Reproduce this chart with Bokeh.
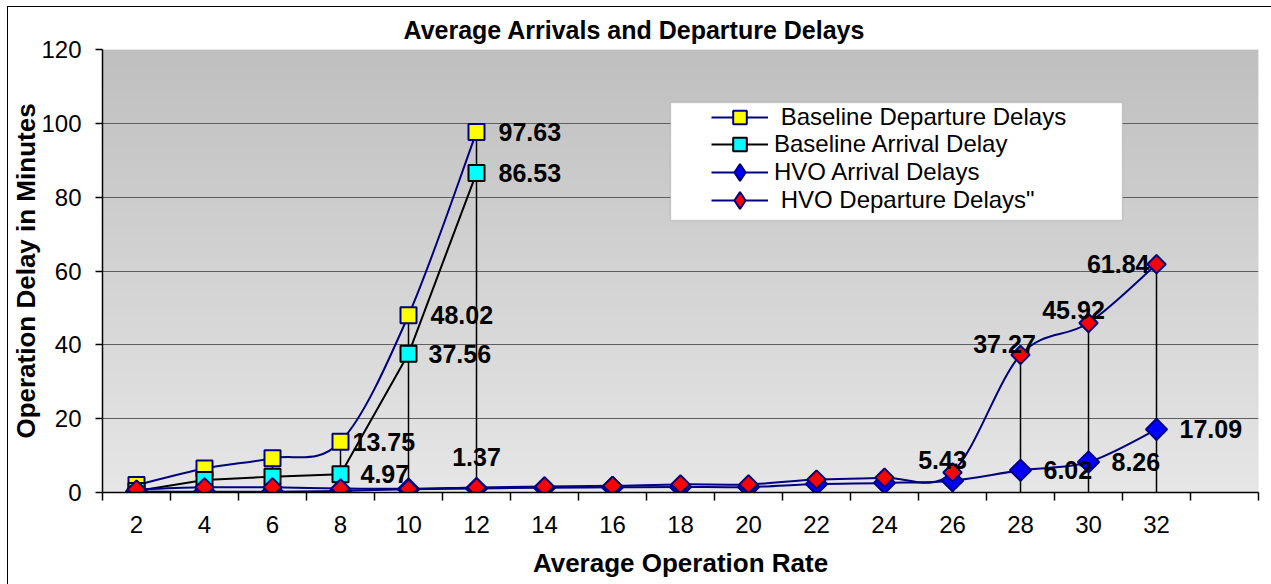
import numpy as np
from bokeh.plotting import figure
from bokeh.models import (Range1d, FixedTicker, Legend, LegendItem, BoxAnnotation,
                          LabelSet, ColumnDataSource)
from bokeh.core.properties import value
from bokeh.embed import file_html
from bokeh.resources import INLINE

# ---------------- data ----------------
rates = [2, 4, 6, 8, 10, 12, 14, 16, 18, 20, 22, 24, 26, 28, 30, 32]
baseline_rates = [2, 4, 6, 8, 10, 12]
baseline_departure = [2.0, 6.5, 9.3, 13.75, 48.02, 97.63]
baseline_arrival = [0.4, 3.4, 4.3, 4.97, 37.56, 86.53]
hvo_arrival = [0.3, 0.2, 0.2, 0.4, 0.9, 1.1, 1.3, 1.4, 1.5, 1.5, 2.3, 2.6, 3.2, 6.02, 8.26, 17.09]
hvo_departure = [0.8, 1.4, 1.4, 1.1, 1.0, 1.37, 1.6, 1.8, 2.2, 2.2, 3.5, 4.0, 5.43, 37.27, 45.92, 61.84]
y_ticks = [0, 20, 40, 60, 80, 100, 120]
grid_ticks = [20, 40, 60, 80, 100]
legend_labels = [" Baseline Departure Delays", "Baseline Arrival Delay",
                 "HVO Arrival Delays", " HVO Departure Delays\""]
title_text = "Average Arrivals and Departure Delays"

series = {
    "bdep": (baseline_rates, baseline_departure),
    "barr": (baseline_rates, baseline_arrival),
    "harr": (rates, hvo_arrival),
    "hdep": (rates, hvo_departure),
}

# which points carry a value label, and where the label sits (style only)
label_specs = [
    ("bdep", 8, "left", 12, 0),
    ("bdep", 10, "left", 22, 0),
    ("bdep", 12, "left", 22, 0),
    ("barr", 8, "left", 20, 0),
    ("barr", 10, "left", 20, 0),
    ("barr", 12, "left", 22, 0),
    ("hdep", 12, "center", 0, 30),
    ("hdep", 26, "center", -10, 12),
    ("hdep", 28, "center", -16, 11),
    ("hdep", 30, "center", -15, 13),
    ("hdep", 32, "right", -7, 0),
    ("harr", 28, "left", 23, 0),
    ("harr", 30, "left", 23, 0),
    ("harr", 32, "left", 23, 0),
]

FONT = "Liberation Sans"
NAVY = "#000080"


def smooth(xs, ys, t=1.0 / 6.0):
    n = len(xs)
    d = dict(x0=[], y0=[], x1=[], y1=[], cx0=[], cy0=[], cx1=[], cy1=[])
    for i in range(n - 1):
        xp, yp = (xs[i - 1], ys[i - 1]) if i > 0 else (xs[i], ys[i])
        xn, yn = (xs[i + 2], ys[i + 2]) if i + 2 < n else (xs[i + 1], ys[i + 1])
        d["x0"].append(xs[i]); d["y0"].append(ys[i])
        d["x1"].append(xs[i + 1]); d["y1"].append(ys[i + 1])
        d["cx0"].append(xs[i] + (xs[i + 1] - xp) * t)
        d["cy0"].append(ys[i] + (ys[i + 1] - yp) * t)
        d["cx1"].append(xs[i + 1] - (xn - xs[i]) * t)
        d["cy1"].append(ys[i + 1] - (yn - ys[i]) * t)
    return ColumnDataSource(d)


p = figure(width=1263, height=577, x_range=Range1d(1, 35), y_range=Range1d(0, 120),
           output_backend="svg", toolbar_location=None,
           min_border_left=94, min_border_right=13, min_border_top=42, min_border_bottom=92)
p.margin = (7, 0, 0, 8)
p.styles = {"outline": "1.5px solid black"}
p.outline_line_color = None
p.background_fill_color = "#e6e6e6"
p.border_fill_color = "white"

# gradient background of the plot area
N = 256
tt = np.linspace(0.0, 1.0, N)
g = np.round(230 - (230 - 191) * tt).astype(np.uint32)
img = ((255 << 24) | (g << 16) | (g << 8) | g).astype(np.uint32).reshape(N, 1)
p.image_rgba(image=[img], x=1, y=0, dw=34, dh=120, level="image")

# title
p.title.text = title_text
p.title.align = "left"
p.title.offset = 301
p.title.vertical_align = "middle"
p.title.text_font = FONT
p.title.text_font_size = "25px"
p.title.text_font_style = "bold"
p.title.text_color = "black"
p.title.standoff = 10

# axes
p.xaxis.ticker = FixedTicker(ticks=rates, minor_ticks=list(range(1, 36, 2)))
p.xaxis.major_tick_out = 0
p.xaxis.major_tick_in = 0
p.xaxis.minor_tick_out = 8
p.xaxis.minor_tick_in = 0
p.xaxis.minor_tick_line_color = "black"
p.xaxis.minor_tick_line_width = 1.5
p.xaxis.major_label_standoff = 15
p.xaxis.axis_label = "Average Operation Rate"
p.xaxis.axis_label_standoff = 12

p.yaxis.ticker = FixedTicker(ticks=y_ticks)
p.yaxis.major_tick_out = 7
p.yaxis.major_tick_in = 0
p.yaxis.minor_tick_line_color = None
p.yaxis.major_label_standoff = 14
p.yaxis.axis_label = "Operation Delay in Minutes"
p.yaxis.axis_label_standoff = -3

for ax in (p.xaxis, p.yaxis):
    ax.axis_line_color = "black"
    ax.axis_line_width = 1.5
    ax.major_tick_line_color = "black"
    ax.major_tick_line_width = 1.5
    ax.major_label_text_font = FONT
    ax.major_label_text_font_size = "24px"
    ax.major_label_text_color = "black"
    ax.axis_label_text_font = FONT
    ax.axis_label_text_font_size = "26px"
    ax.axis_label_text_font_style = "bold"
    ax.axis_label_text_color = "black"

p.xgrid.visible = False
p.ygrid.ticker = FixedTicker(ticks=grid_ticks)
p.ygrid.grid_line_color = "#5f5f5f"
p.ygrid.grid_line_width = 1.2

# drop lines from the highest value at each rate down to the axis
drop_top = []
for r in rates:
    vals = [ys[xs.index(r)] for xs, ys in series.values() if r in xs]
    drop_top.append(max(vals))
p.segment(x0=rates, y0=[0] * len(rates), x1=rates, y1=drop_top,
          line_color="black", line_width=1.5)

# lines
l_bdep = p.bezier(x0="x0", y0="y0", x1="x1", y1="y1", cx0="cx0", cy0="cy0", cx1="cx1", cy1="cy1",
                  source=smooth(baseline_rates, baseline_departure), line_color=NAVY, line_width=2)
l_barr = p.line(baseline_rates, baseline_arrival, line_color="black", line_width=2)
l_harr = p.bezier(x0="x0", y0="y0", x1="x1", y1="y1", cx0="cx0", cy0="cy0", cx1="cx1", cy1="cy1",
                  source=smooth(rates, hvo_arrival), line_color=NAVY, line_width=2)
l_hdep = p.bezier(x0="x0", y0="y0", x1="x1", y1="y1", cx0="cx0", cy0="cy0", cx1="cx1", cy1="cy1",
                  source=smooth(rates, hvo_departure), line_color=NAVY, line_width=2)

# markers
m_bdep = p.scatter(baseline_rates, baseline_departure, marker="square", size=16,
                   fill_color="#ffff00", line_color=NAVY, line_width=2)
m_barr = p.scatter(baseline_rates, baseline_arrival, marker="square", size=16,
                   fill_color="#00ffff", line_color="black", line_width=2)
m_harr = p.scatter(rates, hvo_arrival, marker="square", angle=np.pi / 4, size=15,
                   fill_color="#0000ff", line_color=NAVY, line_width=2)
m_hdep = p.scatter(rates, hvo_departure, marker="square", angle=np.pi / 4, size=13,
                   fill_color="#ff0000", line_color=NAVY, line_width=2)
# legend swatches for the diamond series (the legend does not rotate markers);
# their single point has no y value, so nothing is drawn in the plot area
k_harr = p.scatter(x=rates[:1], y=[float("nan")], marker="diamond",
                   fill_color="#0000ff", line_color=NAVY, line_width=2)
k_hdep = p.scatter(x=rates[:1], y=[float("nan")], marker="diamond",
                   fill_color="#ff0000", line_color=NAVY, line_width=2)

# value labels
for align in ("left", "center", "right"):
    rows = [s for s in label_specs if s[2] == align]
    xs_, ys_, txt, dx, dy = [], [], [], [], []
    for key, r, _, ox, oy in rows:
        sx, sy = series[key]
        v = sy[sx.index(r)]
        xs_.append(r); ys_.append(v); txt.append(f"{v:.2f}"); dx.append(ox); dy.append(oy)
    src = ColumnDataSource(dict(x=xs_, y=ys_, text=txt, dx=dx, dy=dy))
    p.add_layout(LabelSet(x="x", y="y", text="text", x_offset="dx", y_offset="dy", source=src,
                          text_align=align, text_baseline="middle", text_font=value(FONT),
                          text_font_size="25px", text_font_style="bold", text_color="black"))

# legend box
box = BoxAnnotation(left=568, right=1020, top=390, bottom=272,
                    left_units="screen", right_units="screen", top_units="screen", bottom_units="screen",
                    fill_color="white", fill_alpha=1.0, line_color="#808080", line_width=1.5)
p.add_layout(box)

# one legend per row so that the rows can sit as close as in the original
row_renderers = [[l_bdep, m_bdep], [l_barr, m_barr], [l_harr, k_harr], [l_hdep, k_hdep]]
row_center = [375.2, 347.6, 320.0, 292.4]      # px above the bottom of the plot area
row_height = [34, 34, 42, 42]
for lab, rends, c, h in zip(legend_labels, row_renderers, row_center, row_height):
    lg = Legend(items=[LegendItem(label=lab, renderers=rends)],
                location=(609, c - h / 2), padding=0, margin=0, spacing=0,
                glyph_width=57, glyph_height=h, label_height=h, label_standoff=6,
                label_text_font=FONT, label_text_font_size="24px", label_text_color="black",
                border_line_alpha=0, background_fill_alpha=0)
    p.add_layout(lg)

open("out.html", "w").write(file_html(p, INLINE))
